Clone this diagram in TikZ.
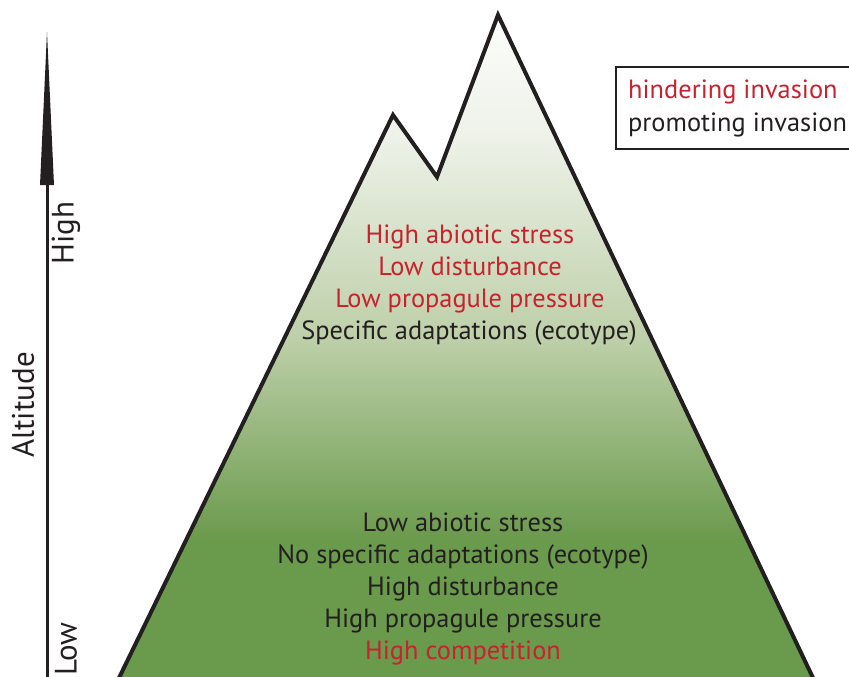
\documentclass[tikz,border=0pt]{standalone}
\usepackage{fontspec}
\setmainfont{PT Sans}
\definecolor{mgreen}{HTML}{6A9A4C}
\definecolor{mmid}{HTML}{BDCFA8}
\definecolor{mlight}{HTML}{EEF2E9}
\definecolor{mwhite}{HTML}{FCFDFB}
\definecolor{dark}{HTML}{231F20}
\definecolor{hred}{HTML}{C8222F}
\pgfdeclareverticalshading{mtn}{100bp}{color(0bp)=(mgreen); color(35.5bp)=(mgreen); color(50.6bp)=(mmid); color(66bp)=(mlight); color(75bp)=(mwhite); color(100bp)=(mwhite)}
\begin{document}
\begin{tikzpicture}[x=1pt,y=-1pt,
  lbl/.style={font=\fontsize{26.4}{30}\selectfont, text=dark, inner sep=0pt, anchor=base},
  red/.style={lbl, text=hred},
  axlbl/.style={lbl, anchor=center, font=\fontsize{31}{36}\selectfont, rotate=90}]
\useasboundingbox (0,0) rectangle (849,677);
% mountain
\coordinate (bl) at (118,680);
\coordinate (p1) at (393,115);
\coordinate (v) at (437,177);
\coordinate (p2) at (498,15);
\coordinate (br) at (814,680);
\shade[shading=mtn] (bl) -- (p1) -- (v) -- (p2) -- (br) -- cycle;
\draw[dark, line width=4pt, line join=miter] (bl) -- (p1) -- (v) -- (p2) -- (br);
% altitude arrow
\coordinate (a0) at (47,680);
\coordinate (ab) at (47,184);
\coordinate (at) at (47,32);
\draw[dark, line width=3pt] (a0) -- (ab);
\fill[dark] (40,185) -- (at) -- (54,185) -- cycle;
\node[axlbl] (alt) at (23,405) {Altitude};
\node[axlbl] (hi) at (66,233) {High};
\node[axlbl] (lo) at (66,649) {Low};
% upper texts
\node[red] (t1) at (470,243) {High abiotic stress};
\node[red] (t2) at (470,275) {Low disturbance};
\node[red] (t3) at (470,307) {Low propagule pressure};
\node[lbl] (t4) at (469,339) {Specific adaptations (ecotype)};
% lower texts
\node[lbl] (b1) at (463,531) {Low abiotic stress};
\node[lbl] (b2) at (463,563) {No specific adaptations (ecotype)};
\node[lbl] (b3) at (463,595) {High disturbance};
\node[lbl] (b4) at (463,627) {High propagule pressure};
\node[red] (b5) at (463,659) {High competition};
% legend
\draw[dark, line width=2.5pt] (616,67) rectangle (852,149);
\node[red, anchor=base west] (l1) at (628,99) {hindering invasion};
\node[lbl, anchor=base west] (l2) at (628,131) {promoting invasion};
\end{tikzpicture}
\end{document}
